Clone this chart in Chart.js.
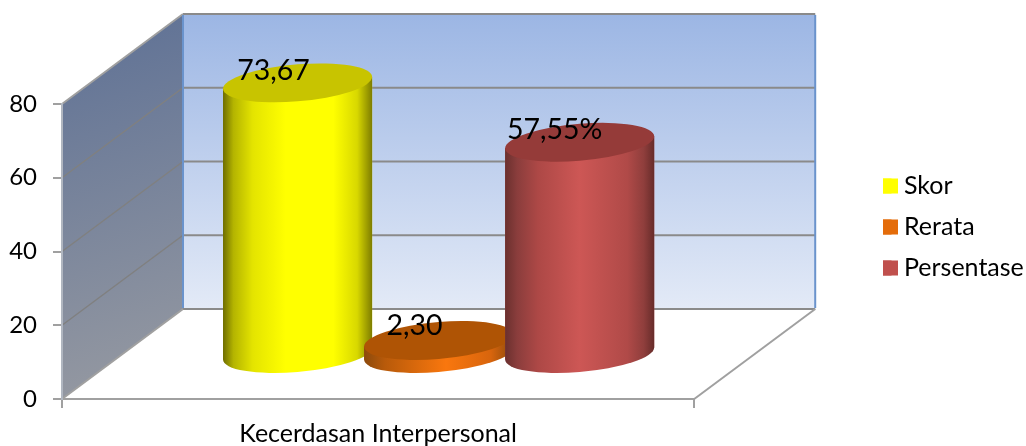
<!DOCTYPE html>
<html>
<head>
<meta charset="utf-8">
<style>html,body{margin:0;padding:0;background:#fff}canvas{display:block}</style>
<script src="https://cdn.jsdelivr.net/npm/chart.js@4"></script>
</head>
<body>
<canvas id="c" width="1026" height="446"></canvas>
<script>
const categories = ['Kecerdasan Interpersonal'];
const skor = [73.67];
const rerata = [2.30];
const persentase = [57.55];
const seriesNames = ['Skor', 'Rerata', 'Persentase'];
const valueLabels = ['73,67', '2,30', '57,55%'];
const yTicks = [0, 20, 40, 60, 80];

const FONT = 'Lato';
const WALL_X = 121, WALL_Y = -90;
const BAR_X = 60.5, BAR_Y = -44.5;
const SKEW = 12 / 149, RY = 18.5;
const LEGEND_BOX_LEFT = 883;
const looks = [
  {solid:'#ffff00', top:'#c8c400', stops:[[0,'#6e6d00'],[.07,'#b4b400'],[.2,'#e4e400'],[.42,'#ffff00'],[.74,'#ffff00'],[.9,'#d8d800'],[1,'#7e7d00']]},
  {solid:'#e46c0a', top:'#af5405', stops:[[0,'#8c4a0c'],[.14,'#b85a0a'],[.55,'#f9770e'],[.85,'#d8650d'],[1,'#8c4a0c']]},
  {solid:'#c0504d', top:'#953b39', stops:[[0,'#6a302e'],[.08,'#8a3d3c'],[.22,'#ad4846'],[.5,'#cd5755'],[.82,'#b04a48'],[.93,'#8f3e3c'],[1,'#672c2a']]}
];
const labelShift = [[-24,-12],[-24,-15],[-25,-12]];

const scene = {
  id:'scene',
  beforeDraw(chart){
    const {ctx} = chart, x = chart.scales.x, y = chart.scales.y;
    const l = x.left, r = x.right, y0 = y.getPixelForValue(0), yT = y.getPixelForValue(80);
    // move the legend to its place
    const lg = chart.legend, pad = lg.options.labels.padding;
    const delta = LEGEND_BOX_LEFT - (lg.left + pad);
    lg.left += delta; lg.right += delta;
    ctx.save();
    // back wall
    let g = ctx.createLinearGradient(0, yT+WALL_Y, 0, y0+WALL_Y);
    g.addColorStop(0,'#9cb6e4'); g.addColorStop(1,'#e3eaf7');
    ctx.fillStyle = g;
    ctx.fillRect(l+WALL_X, yT+WALL_Y, r-l, y0-yT);
    // side wall
    g = ctx.createLinearGradient(l, yT+WALL_Y, l+WALL_X, y0);
    g.addColorStop(0,'#5d7095'); g.addColorStop(1,'#989ba2');
    ctx.fillStyle = g;
    ctx.beginPath();
    ctx.moveTo(l,yT); ctx.lineTo(l+WALL_X,yT+WALL_Y); ctx.lineTo(l+WALL_X,y0+WALL_Y); ctx.lineTo(l,y0); ctx.closePath();
    ctx.fill();
    // grid on back wall and on side wall
    yTicks.forEach(v=>{
      const p = y.getPixelForValue(v);
      ctx.strokeStyle = '#8a8a8a'; ctx.lineWidth = 2;
      ctx.beginPath(); ctx.moveTo(l+WALL_X,p+WALL_Y); ctx.lineTo(r+WALL_X,p+WALL_Y); ctx.stroke();
      ctx.strokeStyle = (v===0||v===80) ? '#a0a0a0' : '#808080'; ctx.lineWidth = (v===0||v===80) ? 2 : 1.5;
      ctx.beginPath(); ctx.moveTo(l,p); ctx.lineTo(l+WALL_X,p+WALL_Y); ctx.stroke();
    });
    // blue edges of back wall
    ctx.strokeStyle = '#6a93cc'; ctx.lineWidth = 2;
    [l+WALL_X, r+WALL_X].forEach(px=>{
      ctx.beginPath(); ctx.moveTo(px,yT+WALL_Y+1); ctx.lineTo(px,y0+WALL_Y-1); ctx.stroke();
    });
    // floor edge
    ctx.strokeStyle = '#a0a0a0'; ctx.lineWidth = 2;
    ctx.beginPath(); ctx.moveTo(r,y0); ctx.lineTo(r+WALL_X,y0+WALL_Y); ctx.stroke();
    ctx.restore();
  },
  beforeDatasetDraw(){ return false; },
  afterDatasetsDraw(chart){
    const {ctx} = chart;
    [0,1,2].forEach(i=>{
      const meta = chart.getDatasetMeta(i), el = meta.data[0], look = looks[i];
      const rx = el.width/2, L = el.x-rx, R = el.x+rx;
      ctx.save();
      ctx.translate(BAR_X, BAR_Y);
      ctx.transform(1, -SKEW, 0, 1, 0, SKEW*el.x);
      const g = ctx.createLinearGradient(L,0,R,0);
      look.stops.forEach(s=>g.addColorStop(s[0],s[1]));
      meta.controller.draw();
      ctx.fillStyle = g;
      ctx.beginPath();
      ctx.moveTo(L,el.y); ctx.lineTo(L,el.base);
      ctx.ellipse(el.x,el.base,rx,RY,0,Math.PI,0,true);
      ctx.lineTo(R,el.y); ctx.closePath(); ctx.fill();
      ctx.fillStyle = look.top;
      ctx.beginPath(); ctx.ellipse(el.x,el.y,rx,RY,0,0,Math.PI*2); ctx.fill();
      ctx.restore();
    });
    ctx.save();
    ctx.fillStyle = '#000'; ctx.font = '28.5px '+FONT;
    ctx.textAlign = 'center'; ctx.textBaseline = 'middle';
    [0,1,2].forEach(i=>{
      const el = chart.getDatasetMeta(i).data[0];
      ctx.fillText(valueLabels[i], el.x+BAR_X+labelShift[i][0], el.y+BAR_Y+labelShift[i][1]);
    });
    ctx.restore();
  },
  afterDraw(chart){
    const {ctx} = chart, lg = chart.legend, boxes = lg.legendHitBoxes;
    boxes.forEach((b,i)=>{
      ctx.fillStyle = looks[i].solid;
      ctx.fillRect(LEGEND_BOX_LEFT, b.top+(b.height-15)/2, 15, 15);
    });
  }
};

new Chart(document.getElementById('c'), {
  type:'bar',
  data:{
    labels:categories,
    datasets:[
      {label:seriesNames[0], data:skor, backgroundColor:looks[0].solid},
      {label:seriesNames[1], data:rerata, backgroundColor:looks[1].solid, minBarLength:14},
      {label:seriesNames[2], data:persentase, backgroundColor:looks[2].solid}
    ]
  },
  plugins:[scene],
  options:{
    responsive:false, animation:false,
    categoryPercentage:0.6693, barPercentage:1.057,
    layout:{padding:{top:8,left:0,right:0,bottom:0}},
    plugins:{
      tooltip:{enabled:false},
      legend:{
        position:'right',
        labels:{color:'#000',boxWidth:8.5,boxHeight:15,padding:16,
          font:{family:FONT,size:25}}
      }
    },
    scales:{
      x:{
        position:'bottom',
        afterFit(s){s.height=47;},
        grid:{drawOnChartArea:false,drawTicks:true,tickLength:9,color:'#a0a0a0',lineWidth:2},
        border:{color:'#a0a0a0',width:2},
        ticks:{color:'#000',padding:11,font:{family:FONT,size:25},maxRotation:0}
      },
      y:{
        position:'left',min:0,max:80,
        afterFit(s){s.width=62;},
        afterBuildTicks(s){s.ticks=yTicks.map(v=>({value:v}));},
        grid:{drawOnChartArea:false,drawTicks:true,tickLength:9,color:'#a0a0a0',lineWidth:2},
        border:{color:'#b0b6c0',width:2},
        ticks:{color:'#000',padding:16,font:{family:FONT,size:24}}
      },
      topSpace:{
        type:'category',position:'top',labels:[''],
        afterFit(s){s.height=96;},
        grid:{display:false},border:{display:false},ticks:{display:false}
      },
      rightSpace:{
        type:'linear',position:'right',
        afterFit(s){s.width=165;},
        grid:{display:false},border:{display:false},ticks:{display:false}
      }
    }
  }
});
</script>
</body>
</html>
